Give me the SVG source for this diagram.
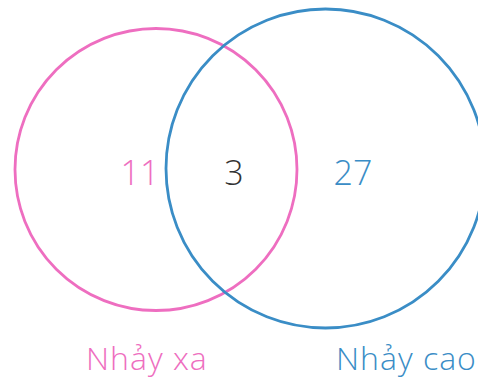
<svg xmlns="http://www.w3.org/2000/svg" width="478" height="381" viewBox="0 0 478 381">
<style>
.c{fill:none;stroke-width:2.8}
.t{font-family:"Open Sans","Liberation Sans",sans-serif;font-weight:300}
.pink{fill:#EE6EC0}
.blue{fill:#3A8DC6}
.lbl{font-size:32px;letter-spacing:1px}
</style>
<rect width="478" height="381" fill="#fff"/>
<g id="nhay-xa">
<circle class="c" cx="156" cy="169.5" r="141" stroke="#EE6EC0"/>
<text class="t pink" x="140" y="185" font-size="34" text-anchor="middle">11</text>
</g>
<g id="nhay-cao">
<circle class="c" cx="325.5" cy="168.5" r="159.5" stroke="#3A8DC6"/>
<text class="t blue" x="353" y="185" font-size="34" text-anchor="middle">27</text>
</g>
<g id="intersection">
<text class="t" x="234" y="185" font-size="34" text-anchor="middle" fill="#333">3</text>
</g>
<g id="labels">
<text class="t pink lbl" x="86" y="370">Nhảy xa</text>
<text class="t blue lbl" x="336" y="370">Nhảy cao</text>
</g>
</svg>
